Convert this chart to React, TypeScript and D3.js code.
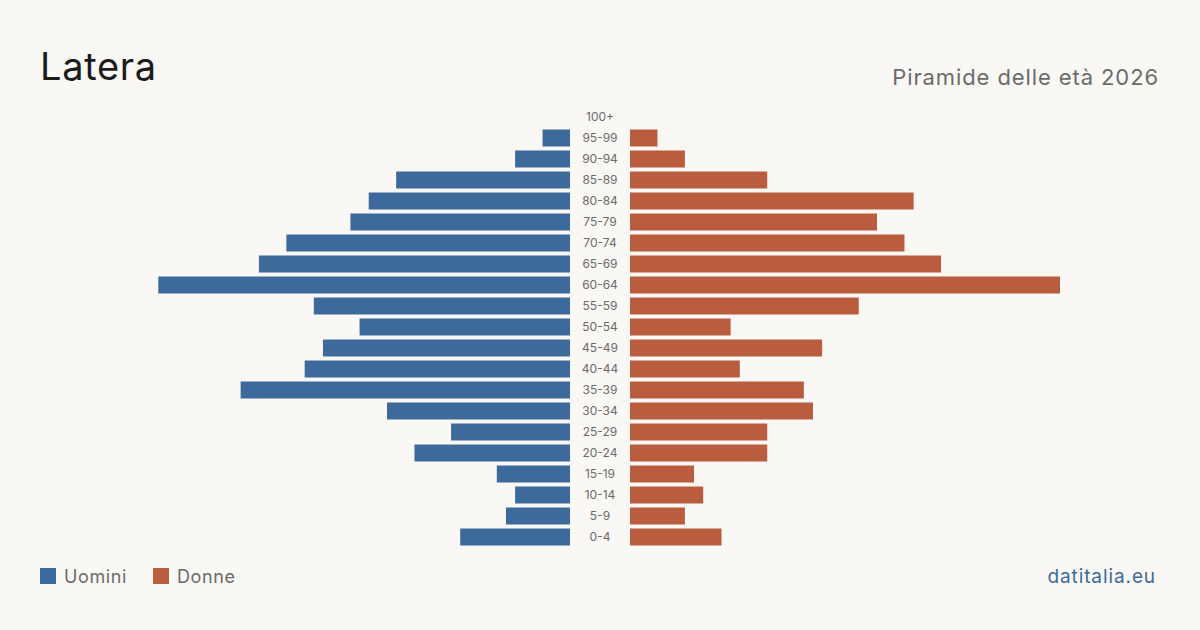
import { useMemo } from "react";
import { scaleBand, scaleLinear } from "d3";

const width = 1200;
const height = 630;
const leftAxis = 570;
const rightAxis = 630;
const maxBar = 430;

const ageGroups = [
  "100+", "95-99", "90-94", "85-89", "80-84", "75-79", "70-74", "65-69",
  "60-64", "55-59", "50-54", "45-49", "40-44", "35-39", "30-34", "25-29",
  "20-24", "15-19", "10-14", "5-9", "0-4",
];
const males = [0, 3, 6, 19, 22, 24, 31, 34, 45, 28, 23, 27, 29, 36, 20, 13, 17, 8, 6, 7, 12];
const females = [0, 3, 6, 15, 31, 27, 30, 34, 47, 25, 11, 21, 12, 19, 20, 15, 15, 7, 8, 6, 10];

const maleColor = "#3d6a9a";
const femaleColor = "#b95d3e";
const font = "Inter, 'Noto Sans', sans-serif";

export default function App() {
  const { x, y } = useMemo(() => {
    const maxVal = Math.max(...males, ...females);
    const x = scaleLinear().domain([0, maxVal]).range([0, maxBar]);
    const y = scaleBand<string>()
      .domain(ageGroups)
      .range([106.5, 547.5])
      .paddingInner(4 / 21)
      .paddingOuter(2 / 21);
    return { x, y };
  }, []);

  return (
    <svg
      width={width}
      height={height}
      viewBox={`0 0 ${width} ${height}`}
      style={{ position: "absolute", left: 0, top: 0, background: "#f9f8f4", fontFamily: font }}
    >
      <rect width={width} height={height} fill="#f9f8f4" />
      <text x={40} y={80} fontSize={38} fill="#1c1c1c" letterSpacing={0.7}>Latera</text>
      <text x={1159} y={85} fontSize={22} fill="#6b6b6b" textAnchor="end" letterSpacing={0.9}>
        Piramide delle età 2026
      </text>

      {ageGroups.map((g, i) => {
        const yy = y(g) ?? 0;
        const bw = y.bandwidth();
        return (
          <g key={g}>
            {males[i] > 0 && (
              <rect x={leftAxis - x(males[i])} y={yy} width={x(males[i])} height={bw} fill={maleColor} />
            )}
            {females[i] > 0 && (
              <rect x={rightAxis} y={yy} width={x(females[i])} height={bw} fill={femaleColor} />
            )}
            <text
              x={(leftAxis + rightAxis) / 2}
              y={yy + bw / 2}
              dy="0.35em"
              fontSize={12}
              fill="#6b6b6b"
              textAnchor="middle"
            >
              {g}
            </text>
          </g>
        );
      })}

      <rect x={40} y={568} width={16} height={16} fill={maleColor} />
      <text x={64} y={583} fontSize={18} fill="#6b6b6b" letterSpacing={0.6}>Uomini</text>
      <rect x={153} y={568} width={16} height={16} fill={femaleColor} />
      <text x={177} y={583} fontSize={18} fill="#6b6b6b" letterSpacing={0.6}>Donne</text>

      <text x={1156} y={583} fontSize={19} fill="#3d6a9a" textAnchor="end" letterSpacing={0.9}>
        datitalia.eu
      </text>
    </svg>
  );
}
